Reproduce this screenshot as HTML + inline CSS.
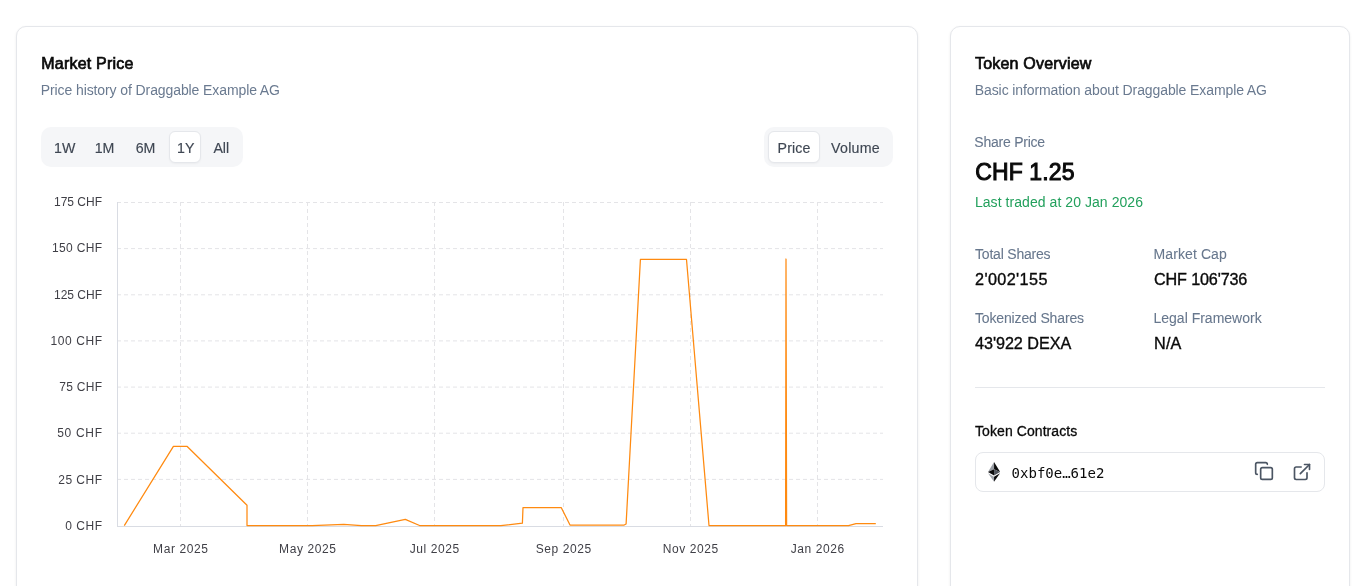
<!DOCTYPE html>
<html lang="en">
<head>
<meta charset="utf-8">
<title>Draggable Example AG – Market</title>
<style>
  html, body { margin: 0; padding: 0; background: #ffffff; }
  body {
    width: 1366px; height: 586px; overflow: hidden; position: relative;
    font-family: "Liberation Sans", sans-serif; color: #0a0a0a;
    -webkit-font-smoothing: antialiased;
  }
  .card {
    position: absolute; top: 26px; height: 620px; box-sizing: border-box;
    background: #fff; border: 1px solid #e5e7eb; border-radius: 10px;
    box-shadow: 0 1px 3px 0 rgba(0,0,0,0.07), 0 1px 2px -1px rgba(0,0,0,0.07);
  }
  #card-left  { left: 16px;  width: 902px; }
  #card-right { left: 950px; width: 400px; }

  .t { position: absolute; white-space: nowrap; margin: 0; padding: 0; line-height: 1; }
  .title { font-size: 16px; font-weight: 400; color: #0a0a0a; -webkit-text-stroke: 0.7px #0a0a0a; }
  .muted { font-size: 14px; color: #6a7a90; }
  .label { font-size: 14px; color: #67778d; -webkit-text-stroke: 0.08px #67778d; }
  .value { font-size: 16.2px; color: #0a0a0a; -webkit-text-stroke: 0.35px #0a0a0a; }
  .big   { font-size: 23px; font-weight: 400; color: #0a0a0a; -webkit-text-stroke: 1px #0a0a0a; letter-spacing: 0.1px; }
  .green { font-size: 14px; color: #22a05c; }

  .seg {
    position: absolute; top: 127px; height: 40px; box-sizing: border-box;
    background: #f5f6f8; border-radius: 10px;
  }
  .seg .btn {
    position: absolute; top: 4px; height: 32px; box-sizing: border-box;
    font-size: 14.2px; line-height: 33px; text-align: center; color: #3f4753;
    border-radius: 6px; border: 1px solid transparent;
    -webkit-text-stroke: 0.15px #3f4753;
  }
  .seg .btn.on { background: #fff; border-color: #e5e7eb; box-shadow: 0 1px 2px rgba(0,0,0,0.04); }

  #chart { position: absolute; left: 0; top: 0; }
  #chart text { font-family: "Liberation Sans", sans-serif; font-size: 12px; fill: #3f3f46; }

  .contract {
    position: absolute; left: 975px; top: 452px; width: 350px; height: 40px;
    box-sizing: border-box; border: 1px solid #e5e7eb; border-radius: 8px; background: #fff;
  }
  .mono { font-family: "DejaVu Sans Mono", "Liberation Mono", monospace; font-size: 14px; color: #0a0a0a; }
  .divider { position: absolute; left: 975px; top: 387px; width: 350px; height: 1px; background: #e5e7eb; }
</style>
</head>
<body>

<main>
<section aria-label="Market Price">
<div class="card" id="card-left"></div>

<!-- LEFT CARD HEADER -->
<h3 class="t title" style="left:41.3px; top:55.6px; letter-spacing:0.2px;">Market Price</h3>
<p class="t muted" style="left:40.8px; top:83.4px; letter-spacing:-0.1px;">Price history of Draggable Example AG</p>

<!-- RANGE TABS -->
<div class="seg" role="tablist" aria-label="Range" style="left:41px; width:202px;">
  <div role="tab" class="btn" style="left:3.7px;   width:40px;">1W</div>
  <div role="tab" class="btn" style="left:45.6px;  width:36px;">1M</div>
  <div role="tab" class="btn" style="left:84px;  width:41px;">6M</div>
  <div role="tab" aria-selected="true" class="btn on" style="left:128px; width:32px; text-indent:1.5px;">1Y</div>
  <div role="tab" class="btn" style="left:162.3px; width:36px;">All</div>
</div>

<!-- PRICE / VOLUME -->
<div class="seg" role="tablist" aria-label="Series" style="left:764px; width:129px;">
  <div role="tab" aria-selected="true" class="btn on" style="left:4px;  width:52px; letter-spacing:0.1px;">Price</div>
  <div role="tab" class="btn" style="left:58px; width:67px; letter-spacing:0.25px;">Volume</div>
</div>

<!-- CHART -->
<svg id="chart" width="1366" height="586" viewBox="0 0 1366 586">
  <g stroke="#e4e4e7" stroke-width="1" stroke-dasharray="4 3" fill="none">
    <line x1="117" y1="202.5" x2="883" y2="202.5"/>
    <line x1="117" y1="248.6" x2="883" y2="248.6"/>
    <line x1="117" y1="294.8" x2="883" y2="294.8"/>
    <line x1="117" y1="340.9" x2="883" y2="340.9"/>
    <line x1="117" y1="387.1" x2="883" y2="387.1"/>
    <line x1="117" y1="433.2" x2="883" y2="433.2"/>
    <line x1="117" y1="479.4" x2="883" y2="479.4"/>
    <line x1="180.5" y1="202" x2="180.5" y2="526"/>
    <line x1="307.5" y1="202" x2="307.5" y2="526"/>
    <line x1="434.5" y1="202" x2="434.5" y2="526"/>
    <line x1="563.5" y1="202" x2="563.5" y2="526"/>
    <line x1="690.5" y1="202" x2="690.5" y2="526"/>
    <line x1="817.5" y1="202" x2="817.5" y2="526"/>
  </g>
  <g stroke="#d9dce3" stroke-width="1" fill="none">
    <line x1="117.5" y1="202" x2="117.5" y2="527"/>
    <line x1="117" y1="526.5" x2="883" y2="526.5"/>
  </g>
  <polyline fill="none" stroke="#ff8a10" stroke-width="1.25" stroke-linejoin="round" points="124.3,525.55 173.4,446.45 187.2,446.45 247,505.3 247,525.55 312,525.55 343.8,524.3 361.4,525.55 375.7,525.55 405.3,519.4 419.6,525.55 500.8,525.55 522.4,523.2 523,507.5 561.2,507.5 570,525.0 624.2,525.0 626.1,524 640.4,259.45 686.5,259.45 709,525.55 785.6,525.55 786.0,259.0 786.6,525.55 848.5,525.55 856,523.6 875.8,523.6"/>
  <g text-anchor="end">
    <text x="102" y="205.9">175 CHF</text>
    <text x="102.35" y="252.2" letter-spacing="0.35">150 CHF</text>
    <text x="102" y="298.5">125 CHF</text>
    <text x="102.57" y="344.8" letter-spacing="0.57">100 CHF</text>
    <text x="102.26" y="391.1" letter-spacing="0.26">75 CHF</text>
    <text x="102.70" y="437.4" letter-spacing="0.7">50 CHF</text>
    <text x="102.48" y="483.7" letter-spacing="0.48">25 CHF</text>
    <text x="102.50" y="530.0" letter-spacing="0.5">0 CHF</text>
  </g>
  <g text-anchor="middle" letter-spacing="0.6">
    <text x="180.8" y="552.9">Mar 2025</text>
    <text x="307.8" y="552.9">May 2025</text>
    <text x="434.8" y="552.9">Jul 2025</text>
    <text x="563.8" y="552.9">Sep 2025</text>
    <text x="690.8" y="552.9">Nov 2025</text>
    <text x="817.8" y="552.9">Jan 2026</text>
  </g>
</svg>

</section>

<!-- RIGHT CARD -->
<aside aria-label="Token Overview">
<div class="card" id="card-right"></div>
<h3 class="t title" style="left:975px; top:55.6px; letter-spacing:0.2px;">Token Overview</h3>
<p class="t muted" style="left:974.8px; top:83.4px; letter-spacing:-0.1px;">Basic information about Draggable Example AG</p>

<div class="t label" style="left:974.3px; top:135px; letter-spacing:-0.23px;">Share Price</div>
<div class="t big"   style="left:975.3px; top:160.8px;">CHF 1.25</div>
<div class="t green" style="left:974.9px; top:195px; letter-spacing:0.06px;">Last traded at 20 Jan 2026</div>

<div class="t label" style="left:975px;  top:247px; letter-spacing:-0.2px;">Total Shares</div>
<div class="t value" style="left:975px;  top:271.1px; letter-spacing:0.4px;">2'002'155</div>
<div class="t label" style="left:1153.5px; top:247px; letter-spacing:0.1px;">Market Cap</div>
<div class="t value" style="left:1154px; top:271.1px; letter-spacing:-0.15px;">CHF 106'736</div>

<div class="t label" style="left:975px;  top:311px; letter-spacing:-0.15px;">Tokenized Shares</div>
<div class="t value" style="left:975px;  top:335.1px; letter-spacing:-0.05px;">43'922 DEXA</div>
<div class="t label" style="left:1153.5px; top:311px;">Legal Framework</div>
<div class="t value" style="left:1154px; top:335.1px; letter-spacing:0.2px;">N/A</div>

<div class="divider"></div>

<div class="t" style="left:975px; top:424.2px; letter-spacing:0.08px; font-size:14px; color:#0a0a0a; -webkit-text-stroke:0.3px #0a0a0a;">Token Contracts</div>

<div class="contract"></div>
<svg class="t" style="left:988px; top:462.2px;" width="12.1" height="19.7" viewBox="0 0 256 417">
  <polygon fill="#9a9ea5" points="128,0 0,212.3 128,154.2"/>
  <polygon fill="#0b0b0c" points="128,0 128,154.2 256,212.3"/>
  <polygon fill="#0b0b0c" points="0,212.3 128,154.2 128,288"/>
  <polygon fill="#50545c" points="128,154.2 256,212.3 128,288"/>
  <polygon fill="#a2a6ad" points="0,236.6 128,312.2 128,417"/>
  <polygon fill="#0b0b0c" points="256,236.6 128,312.2 128,417"/>
</svg>
<div class="t mono" style="left:1011.6px; top:466.4px;">0xbf0e…61e2</div>

<svg class="t" style="left:1254px; top:460.7px;" width="20" height="20" viewBox="0 0 24 24" fill="none" stroke="#4b5563" stroke-width="2" stroke-linecap="round" stroke-linejoin="round">
  <rect width="14" height="14" x="8" y="8" rx="2" ry="2"/>
  <path d="M4 16c-1.1 0-2-.9-2-2V4c0-1.1.9-2 2-2h10c1.1 0 2 .9 2 2"/>
</svg>
<svg class="t" style="left:1292px; top:462px;" width="20" height="20" viewBox="0 0 24 24" fill="none" stroke="#4b5563" stroke-width="2" stroke-linecap="round" stroke-linejoin="round">
  <path d="M15 3h6v6"/>
  <path d="M10 14 21 3"/>
  <path d="M18 13v6a2 2 0 0 1-2 2H5a2 2 0 0 1-2-2V8a2 2 0 0 1 2-2h6"/>
</svg>

</aside>
</main>
</body>
</html>
